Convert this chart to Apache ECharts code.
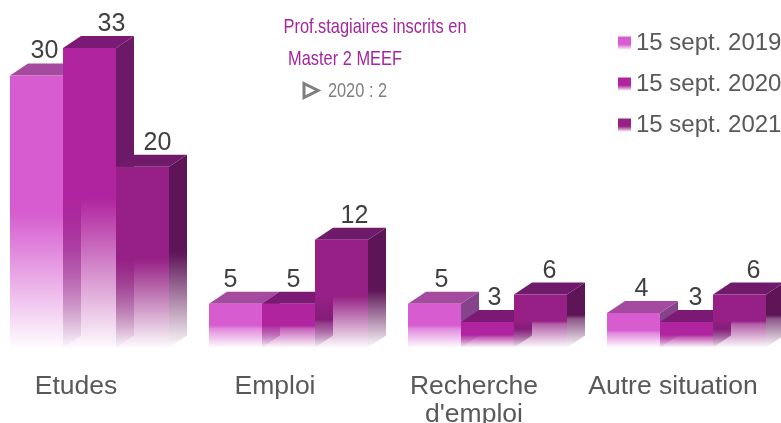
<!DOCTYPE html>
<html>
<head>
<meta charset="utf-8">
<style>
  html, body { margin: 0; padding: 0; background: #fff; overflow: hidden; }
  #chart { width: 781px; height: 423px; }
</style>
</head>
<body>
<div id="chart"></div>
<script src="https://cdn.jsdelivr.net/npm/echarts@6/dist/echarts.min.js"></script>
<script>
const categories = ['Etudes', 'Emploi', "Recherche\nd'emploi", 'Autre situation']
const seriesNames = ['15 sept. 2019', '15 sept. 2020', '15 sept. 2021']
const values2019 = [30, 5, 5, 4]
const values2020 = [33, 5, 3, 3]
const values2021 = [20, 12, 6, 6]

// face colours per series, [r, g, b]
const faceColors = [
  { front: [214, 92, 208], top: [164, 74, 159], side: [135, 66, 140] },
  { front: [176, 37, 159], top: [122, 26, 116], side: [108, 26, 104] },
  { front: [150, 32, 133], top: [112, 26, 108], side: [94, 21, 88] },
]
// the labels do not sit at the same spot on each bar in the original
const labelNudge = [
  [8, -5, 7, 8],
  [22, 5, 7, 9],
  [15, 13, 9, 14],
]

const BAR_WIDTH = 53
const DEPTH_X = 18
const DEPTH_Y = 12
const FONT = '"Liberation Sans", Arial, sans-serif'

function rgba(c, a) {
  return 'rgba(' + c[0] + ',' + c[1] + ',' + c[2] + ',' + a + ')'
}

// short bars show a visible step where the fade starts, tall ones do not
function fadeFill(c, height) {
  return new echarts.graphic.LinearGradient(0, 0, 0, 1, [
    { offset: 0, color: rgba(c, 1) },
    { offset: 0.5, color: rgba(c, 1) },
    { offset: 0.5 + 3 / height, color: rgba(c, height < 100 ? 0.72 : 0.99) },
    { offset: 1, color: rgba(c, 0.02) },
  ])
}

function renderBar(seriesIdx) {
  const colors = faceColors[seriesIdx]
  return function (params, api) {
    const top = api.coord([api.value(0), api.value(1)])
    const base = api.coord([api.value(0), 0])
    const x = top[0] + 13.5 + (seriesIdx - 1) * BAR_WIDTH - BAR_WIDTH / 2
    const r = x + BAR_WIDTH
    const y = top[1]
    const b = base[1] - 2
    return {
      type: 'group',
      children: [
        {
          type: 'polygon',
          shape: { points: [[r, y], [r + DEPTH_X, y - DEPTH_Y], [r + DEPTH_X, b - DEPTH_Y], [r, b]] },
          style: { fill: fadeFill(colors.side, b - y) },
        },
        {
          type: 'polygon',
          shape: { points: [[x, y], [x + DEPTH_X, y - DEPTH_Y], [r + DEPTH_X, y - DEPTH_Y], [r, y]] },
          style: { fill: rgba(colors.top, 1) },
        },
        {
          type: 'rect',
          shape: { x: x, y: y, width: BAR_WIDTH, height: b - y },
          style: { fill: fadeFill(colors.front, b - y) },
        },
        {
          type: 'text',
          style: {
            text: String(api.value(1)),
            x: x + BAR_WIDTH / 2 + labelNudge[seriesIdx][params.dataIndex],
            y: y - 24,
            align: 'center',
            verticalAlign: 'middle',
            fill: '#404040',
            font: '25px ' + FONT,
          },
        },
      ],
    }
  }
}

function legendFill(c) {
  return new echarts.graphic.LinearGradient(0, 0, 0, 1, [
    { offset: 0, color: rgba(c, 1) },
    { offset: 0.6, color: rgba(c, 1) },
    { offset: 1, color: rgba(c, 0.1) },
  ])
}

const allValues = [values2019, values2020, values2021]

const chart = echarts.init(document.getElementById('chart'))
chart.setOption({
  animation: false,
  backgroundColor: '#fff',
  grid: { left: -23.5, width: 796, top: 20.7, height: 328.7, outerBoundsMode: 'none' },
  xAxis: {
    type: 'category',
    data: categories,
    axisLine: { show: false },
    axisTick: { show: false },
    axisLabel: {
      interval: 0,
      margin: 23,
      color: '#595959',
      fontSize: 26.5,
      lineHeight: 28,
      fontFamily: FONT,
    },
  },
  yAxis: { type: 'value', min: 0, max: 36, show: false },
  legend: {
    orient: 'vertical',
    left: 613,
    top: 26,
    itemWidth: 13,
    itemHeight: 13,
    itemGap: 17,
    icon: 'rect',
    textStyle: { color: '#595959', fontSize: 24, fontFamily: FONT },
    data: seriesNames,
  },
  series: seriesNames.map(function (name, i) {
    return {
      name: name,
      type: 'custom',
      clip: false,
      renderItem: renderBar(i),
      itemStyle: { color: legendFill(faceColors[i].front) },
      data: allValues[i].map(function (v, c) { return [c, v] }),
      encode: { x: 0, y: 1 },
    }
  }),
  graphic: [
    {
      type: 'text', x: 375, y: 27, scaleX: 0.78,
      style: { text: 'Prof.stagiaires inscrits en', align: 'center', verticalAlign: 'middle', fill: '#A5269D', font: '21px ' + FONT },
    },
    {
      type: 'text', x: 345, y: 59, scaleX: 0.78,
      style: { text: 'Master 2 MEEF', align: 'center', verticalAlign: 'middle', fill: '#A5269D', font: '21px ' + FONT },
    },
    {
      type: 'polygon',
      shape: { points: [[304, 83.5], [318, 90.5], [304, 97.5]] },
      style: { fill: 'none', stroke: '#7f7f7f', lineWidth: 3 },
    },
    {
      type: 'text', x: 357.5, y: 91, scaleX: 0.78,
      style: { text: '2020 : 2', align: 'center', verticalAlign: 'middle', fill: '#7f7f7f', font: '21px ' + FONT },
    },
  ],
})
</script>
</body>
</html>
